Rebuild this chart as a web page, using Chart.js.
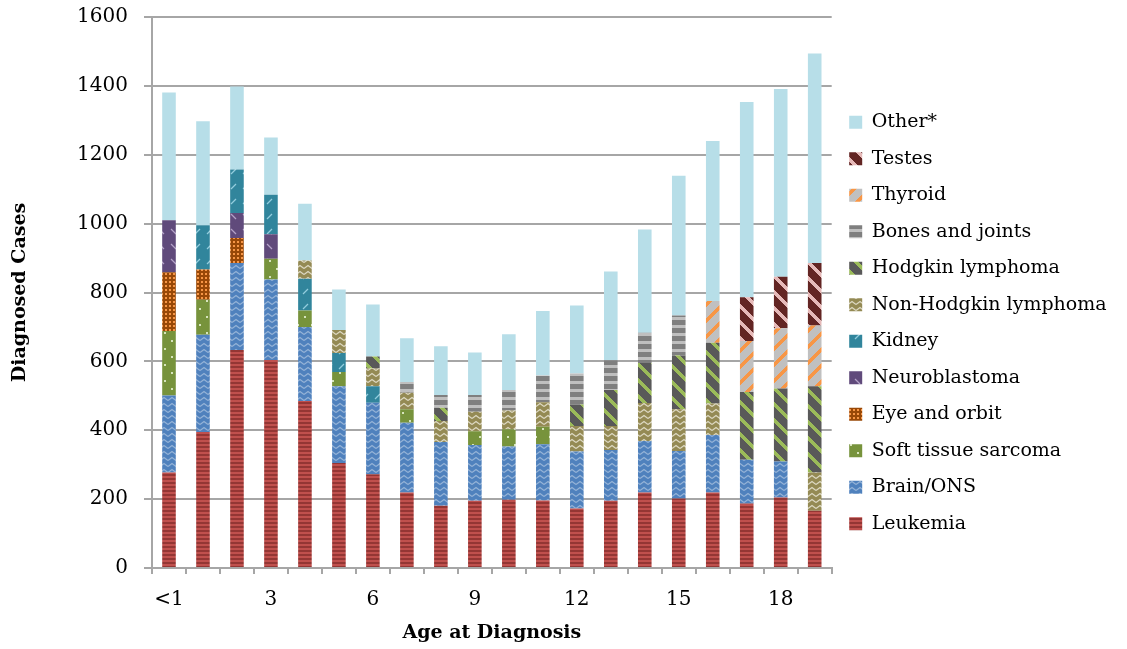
<!DOCTYPE html>
<html lang="en">
<head>
    <meta charset="UTF-8">
    <title>Diagnosed Cases by Age at Diagnosis</title>
    <script src="https://cdn.jsdelivr.net/npm/chart.js@4/dist/chart.umd.min.js"></script>
    <style>
        * { margin: 0; padding: 0; box-sizing: border-box; }
        body { background: #ffffff; width: 1127px; height: 649px; overflow: hidden; }
        .chart-container { position: relative; width: 1127px; height: 649px; }
    </style>
</head>
<body>
    <div class="chart-container">
        <canvas id="casesChart"></canvas>
    </div>

    <script>
        // Categories and values
        const ages = ['<1', '1', '2', '3', '4', '5', '6', '7', '8', '9',
                      '10', '11', '12', '13', '14', '15', '16', '17', '18', '19'];

        const leukemia   = [277, 395, 633, 604, 485, 305, 272, 219, 181, 195, 198, 196, 173, 195, 219, 202, 219, 187, 205, 166];
        const brainOns   = [224, 282, 253, 234, 215, 223, 208, 203, 185, 162, 155, 163, 165, 148, 150, 138, 167, 127, 104, 0];
        const softTissue = [187, 102, 0, 60, 48, 41, 0, 39, 0, 40, 50, 51, 0, 0, 0, 0, 0, 0, 0, 0];
        const eyeOrbit   = [171, 88, 72, 0, 0, 0, 0, 0, 0, 0, 0, 0, 0, 0, 0, 0, 0, 0, 0, 0];
        const neuroblast = [151, 0, 73, 71, 0, 0, 0, 0, 0, 0, 0, 0, 0, 0, 0, 0, 0, 0, 0, 0];
        const kidney     = [0, 128, 126, 115, 92, 55, 48, 0, 0, 0, 0, 0, 0, 0, 0, 0, 0, 0, 0, 0];
        const nonHodgkin = [0, 0, 0, 0, 53, 67, 51, 48, 61, 57, 54, 71, 74, 69, 110, 121, 92, 0, 0, 111];
        const hodgkin    = [0, 0, 0, 0, 0, 0, 35, 0, 38, 0, 0, 0, 63, 105, 116, 156, 176, 197, 212, 251];
        const bones      = [0, 0, 0, 0, 0, 0, 0, 31, 37, 48, 60, 78, 90, 86, 88, 116, 0, 0, 0, 0];
        const thyroid    = [0, 0, 0, 0, 0, 0, 0, 0, 0, 0, 0, 0, 0, 0, 0, 0, 121, 148, 175, 176];
        const testes     = [0, 0, 0, 0, 0, 0, 0, 0, 0, 0, 0, 0, 0, 0, 0, 0, 0, 127, 150, 182];
        const other      = [371, 302, 241, 166, 165, 118, 151, 127, 142, 124, 162, 187, 197, 258, 300, 406, 465, 567, 545, 608];

        const FONT = "'DejaVu Serif', 'Liberation Serif', serif";
        const LEGEND_SIZE = 19;
        const LEGEND_GAP = 17.5;

        // Small tile patterns, roughly like the Excel fills
        function makePattern(w, h, draw) {
            const c = document.createElement('canvas');
            c.width = w;
            c.height = h;
            const g = c.getContext('2d');
            draw(g, w, h);
            return g.createPattern(c, 'repeat');
        }

        function diagonal(base, stripe, period, width, dir) {
            return makePattern(period, period, (g) => {
                g.fillStyle = base;
                g.fillRect(0, 0, period, period);
                g.fillStyle = stripe;
                for (let x = 0; x < period; x++) {
                    for (let y = 0; y < period; y++) {
                        const k = dir === '\\' ? (x - y + period) % period : (x + y) % period;
                        if (k < width) g.fillRect(x, y, 1, 1);
                    }
                }
            });
        }

        function hStripes(colors) {
            return makePattern(1, colors.length, (g) => {
                colors.forEach((c, i) => { g.fillStyle = c; g.fillRect(0, i, 1, 1); });
            });
        }

        function wave(base, line) {
            return makePattern(8, 6, (g) => {
                g.fillStyle = base;
                g.fillRect(0, 0, 8, 6);
                g.strokeStyle = line;
                g.lineWidth = 1.2;
                g.beginPath();
                g.moveTo(0, 4.5);
                g.lineTo(4, 1.5);
                g.lineTo(8, 4.5);
                g.stroke();
            });
        }

        function dash(base, line, dir) {
            return makePattern(12, 15, (g) => {
                g.fillStyle = base;
                g.fillRect(0, 0, 12, 15);
                g.strokeStyle = line;
                g.lineWidth = 1.2;
                g.beginPath();
                if (dir === '\\') { g.moveTo(3, 4); g.lineTo(8, 9); }
                else { g.moveTo(3, 9); g.lineTo(8, 4); }
                g.stroke();
            });
        }

        const fills = {
            leukemia: hStripes(['#c0504d', '#c0504d', '#943634', '#943634']),
            brain: wave('#4f81bd', '#95b3d7'),
            soft: makePattern(14, 16, (g) => {
                g.fillStyle = '#77933c'; g.fillRect(0, 0, 14, 16);
                g.fillStyle = '#d7e4bd'; g.fillRect(3, 4, 2, 2); g.fillRect(10, 12, 2, 2);
            }),
            eye: makePattern(4, 4, (g) => {
                g.fillStyle = '#984807'; g.fillRect(0, 0, 4, 4);
                g.fillStyle = '#f79646'; g.fillRect(1, 1, 2, 2);
            }),
            neuro: dash('#604a7b', '#b3a2c7', '\\'),
            kidney: dash('#31859c', '#93cddd', '/'),
            nhl: wave('#948a54', '#ddd9c3'),
            hodgkin: diagonal('#595959', '#9bbb59', 16, 5, '\\'),
            bones: hStripes(['#7f7f7f', '#7f7f7f', '#7f7f7f', '#7f7f7f', '#7f7f7f', '#bfbfbf', '#bfbfbf', '#bfbfbf']),
            thyroid: diagonal('#c0c0c0', '#f79646', 16, 5, '/'),
            testes: diagonal('#632523', '#e6b9b8', 16, 5, '\\'),
            other: '#b7dee8'
        };

        // Work out legend width so the plot ends where the reference one does
        const measure = document.createElement('canvas').getContext('2d');
        measure.font = LEGEND_SIZE + 'px ' + FONT;
        const legendText = ['Other*', 'Testes', 'Thyroid', 'Bones and joints', 'Hodgkin lymphoma',
            'Non-Hodgkin lymphoma', 'Kidney', 'Neuroblastoma', 'Eye and orbit',
            'Soft tissue sarcoma', 'Brain/ONS', 'Leukemia'];
        const maxText = Math.max(...legendText.map(t => measure.measureText(t).width));
        const legendWidth = LEGEND_GAP + 13 + LEGEND_SIZE / 2 + maxText;
        const rightPad = Math.max(0, 1127 - 834 - legendWidth);

        function series(label, data, fill) {
            return { label: label, data: data, backgroundColor: fill, borderWidth: 0 };
        }

        const ctx = document.getElementById('casesChart').getContext('2d');
        new Chart(ctx, {
            type: 'bar',
            data: {
                labels: ages,
                datasets: [
                    series('Leukemia', leukemia, fills.leukemia),
                    series('Brain/ONS', brainOns, fills.brain),
                    series('Soft tissue sarcoma', softTissue, fills.soft),
                    series('Eye and orbit', eyeOrbit, fills.eye),
                    series('Neuroblastoma', neuroblast, fills.neuro),
                    series('Kidney', kidney, fills.kidney),
                    series('Non-Hodgkin lymphoma', nonHodgkin, fills.nhl),
                    series('Hodgkin lymphoma', hodgkin, fills.hodgkin),
                    series('Bones and joints', bones, fills.bones),
                    series('Thyroid', thyroid, fills.thyroid),
                    series('Testes', testes, fills.testes),
                    series('Other*', other, fills.other)
                ]
            },
            options: {
                responsive: true,
                maintainAspectRatio: false,
                animation: false,
                datasets: {
                    bar: { categoryPercentage: 1, barPercentage: 0.4 }
                },
                layout: {
                    padding: { top: 7, left: 0, bottom: 10, right: rightPad }
                },
                scales: {
                    x: {
                        stacked: true,
                        grid: {
                            offset: true,
                            drawOnChartArea: false,
                            drawTicks: true,
                            tickLength: 6,
                            color: '#a6a6a6',
                            lineWidth: 2
                        },
                        border: { color: '#a6a6a6', width: 2 },
                        ticks: {
                            autoSkip: false,
                            maxRotation: 0,
                            padding: 14,
                            color: '#000000',
                            font: { family: FONT, size: 20 },
                            callback: (value, index) => index % 3 === 0 ? ages[index] : ''
                        },
                        title: {
                            display: true,
                            text: 'Age at Diagnosis',
                            color: '#000000',
                            font: { family: FONT, size: 19, weight: 'bold' },
                            padding: { top: 0, bottom: -5.5 }
                        },
                        afterFit: (scale) => { scale.height = 71; }
                    },
                    y: {
                        stacked: true,
                        min: 0,
                        max: 1600,
                        ticks: {
                            stepSize: 200,
                            padding: 16,
                            color: '#000000',
                            font: { family: FONT, size: 20 },
                            callback: (value) => String(value)
                        },
                        grid: {
                            color: '#a6a6a6',
                            lineWidth: 2,
                            tickLength: 8
                        },
                        border: { color: '#a6a6a6', width: 2 },
                        title: {
                            display: true,
                            text: 'Diagnosed Cases',
                            color: '#000000',
                            font: { family: FONT, size: 19, weight: 'bold' },
                            padding: { top: 9, bottom: 0 }
                        },
                        afterFit: (scale) => {
                            scale.width = 152;
                            scale.paddingTop = 17;
                            scale.paddingBottom = 0;
                        }
                    }
                },
                plugins: {
                    legend: {
                        position: 'right',
                        reverse: true,
                        labels: {
                            boxWidth: 13,
                            boxHeight: 13,
                            padding: LEGEND_GAP,
                            color: '#000000',
                            font: { family: FONT, size: LEGEND_SIZE }
                        }
                    },
                    tooltip: { enabled: false }
                }
            }
        });
    </script>
</body>
</html>
